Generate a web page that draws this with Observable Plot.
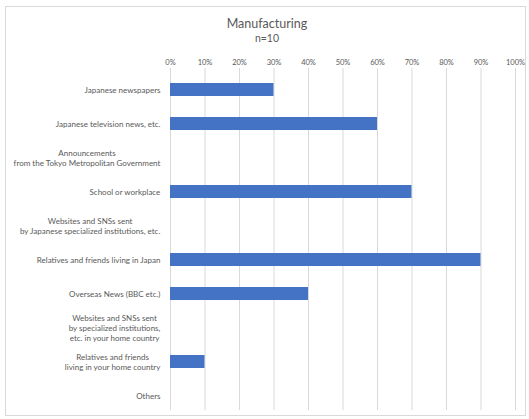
<!DOCTYPE html>
<html>
<head>
<meta charset="utf-8">
<script src="https://cdn.jsdelivr.net/npm/d3@7"></script>
<script src="https://cdn.jsdelivr.net/npm/@observablehq/plot@0.6"></script>
<style>
  html, body { margin: 0; padding: 0; background: #ffffff; }
  #chart { position: relative; width: 529px; height: 419px; font-family: Lato, "Open Sans", sans-serif; }
  #frame { position: absolute; left: 5px; top: 6px; width: 521px; height: 410px; border: 1px solid #d9d9d9; box-sizing: border-box; }
  .ttl { position: absolute; left: 0; width: 534px; text-align: center; color: #595959; }
  #t1 { top: 16px; font-size: 12.5px; }
  #t2 { top: 32px; font-size: 10.5px; }
  #plot { position: absolute; left: 0; top: 0; }
</style>
</head>
<body>
<div id="chart">
  <div id="frame"></div>
  <div id="plot"></div>
  <div class="ttl" id="t1">Manufacturing</div>
  <div class="ttl" id="t2">n=10</div>
</div>
<script>
const categories = [
  "Japanese newspapers",
  "Japanese television news, etc.",
  "Announcements\nfrom the Tokyo Metropolitan Government",
  "School or workplace",
  "Websites and SNSs sent\nby Japanese specialized institutions, etc.",
  "Relatives and friends living in Japan",
  "Overseas News (BBC etc.)",
  "Websites and SNSs sent\nby specialized institutions,\netc. in your home country",
  "Relatives and friends\nliving in your home country",
  "Others"
];
const values = [0.3, 0.6, 0, 0.7, 0, 0.9, 0.4, 0, 0.1, 0];
const tickValues = [0, 0.1, 0.2, 0.3, 0.4, 0.5, 0.6, 0.7, 0.8, 0.9, 1.0];
const tickLabels = ["0%", "10%", "20%", "30%", "40%", "50%", "60%", "70%", "80%", "90%", "100%"];

const data = categories.map((c, i) => ({cat: c, value: values[i]}));

const labelFont = "8px Lato";
const ctx = document.createElement("canvas").getContext("2d");
ctx.font = labelFont;
const blockWidth = c => Math.max(...c.split("\n").map(s => ctx.measureText(s).width));
const labelPad = 10;

const labelMarks = categories.map(c => Plot.text([c], {
  y: d => d, text: d => d, frameAnchor: "left", textAnchor: "middle",
  dx: -(labelPad + blockWidth(c) / 2), lineHeight: 1.2, fill: "#595959", fontSize: 8
}));

const chart = Plot.plot({
  width: 529,
  height: 419,
  marginLeft: 170,
  marginRight: 14,
  marginTop: 71,
  marginBottom: 6,
  style: {fontFamily: "Lato, 'Open Sans', sans-serif", fontSize: "8px", color: "#595959", background: "transparent"},
  x: {domain: [0, 1]},
  y: {domain: categories, paddingInner: 0.63, paddingOuter: 0.315, axis: null},
  marks: [
    Plot.gridX(tickValues, {stroke: "#d9d9d9", strokeOpacity: 1, strokeWidth: 1, insetTop: -3, insetBottom: 3}),
    Plot.axisX({anchor: "top", ticks: tickValues, tickSize: 0, tickPadding: 7, label: null,
      tickFormat: d => tickLabels[tickValues.indexOf(d)], fontSize: 7.5, fill: "#595959"}),
    ...labelMarks,
    Plot.barX(data, {x: "value", y: "cat", fill: "#4472C4"})
  ]
});
document.getElementById("plot").appendChild(chart);
</script>
</body>
</html>
